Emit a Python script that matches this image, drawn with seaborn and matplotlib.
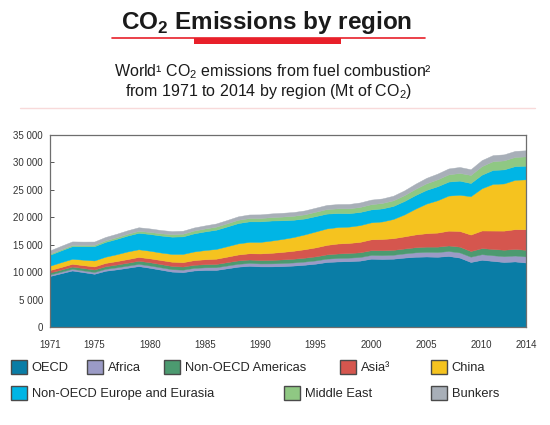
import matplotlib
matplotlib.use("Agg")
import matplotlib.pyplot as plt
from matplotlib.patches import Rectangle, Patch
from matplotlib.lines import Line2D
from matplotlib.ticker import FuncFormatter, MultipleLocator
import seaborn as sns

# data (Mt of CO2), 1971-2014
years = list(range(1971, 2015))

oecd = [9300, 9800, 10300, 10000, 9700, 10250, 10500, 10800, 11100, 10800,
        10450, 10100, 10000, 10300, 10400, 10400, 10700, 11000, 11150, 11050,
        11050, 11100, 11200, 11350, 11550, 11850, 11950, 12000, 12100, 12450,
        12400, 12450, 12650, 12800, 12850, 12800, 12950, 12650, 11850, 12250,
        12050, 11850, 11950, 11750]
africa = [270, 280, 300, 310, 330, 350, 370, 380, 400, 410,
          430, 440, 450, 470, 480, 500, 510, 520, 530, 540,
          550, 560, 570, 580, 590, 610, 630, 640, 660, 680,
          700, 720, 760, 810, 850, 870, 900, 950, 970, 1020,
          1030, 1060, 1080, 1110]
americas = [370, 390, 420, 440, 450, 480, 510, 540, 580, 600,
            590, 590, 570, 570, 570, 590, 610, 620, 620, 610,
            630, 660, 680, 710, 740, 780, 820, 850, 860, 870,
            890, 890, 900, 930, 950, 980, 1010, 1050, 1030, 1120,
            1150, 1180, 1200, 1210]
asia = [450, 470, 500, 520, 560, 600, 630, 660, 690, 710,
        740, 770, 800, 850, 900, 960, 1010, 1080, 1140, 1210,
        1290, 1370, 1450, 1540, 1640, 1730, 1820, 1830, 1900, 1980,
        2050, 2130, 2210, 2330, 2450, 2560, 2700, 2850, 3000, 3200,
        3350, 3480, 3600, 3750]
china = [790, 880, 910, 1000, 1090, 1130, 1250, 1390, 1400, 1390,
         1370, 1420, 1500, 1580, 1680, 1780, 1900, 2030, 2070, 2100,
         2240, 2360, 2500, 2700, 2900, 3000, 3000, 2980, 3050, 3100,
         3200, 3500, 4000, 4700, 5400, 5900, 6400, 6600, 7000, 7700,
         8500, 8600, 9000, 9100]
europe_eurasia = [2000, 2150, 2300, 2450, 2600, 2700, 2800, 2900, 3000, 3050,
                  3100, 3150, 3200, 3300, 3400, 3500, 3600, 3700, 3750, 3750,
                  3650, 3400, 3150, 2900, 2800, 2700, 2550, 2450, 2400, 2350,
                  2380, 2380, 2450, 2480, 2500, 2550, 2550, 2580, 2400, 2480,
                  2550, 2560, 2500, 2480]
middle_east = [190, 200, 220, 230, 250, 280, 300, 320, 350, 370,
               400, 440, 480, 510, 530, 560, 580, 600, 600, 600,
               620, 680, 720, 760, 800, 830, 860, 880, 910, 950,
               990, 1020, 1060, 1130, 1200, 1260, 1310, 1400, 1470, 1550,
               1590, 1640, 1670, 1700]
bunkers = [600, 630, 650, 620, 600, 620, 630, 640, 660, 640,
           600, 570, 550, 560, 560, 580, 600, 630, 650, 670,
           680, 690, 690, 710, 730, 750, 780, 800, 820, 840,
           820, 840, 870, 930, 990, 1040, 1080, 1090, 1040, 1100,
           1110, 1100, 1100, 1110]

labels = ["OECD", "Africa", "Non-OECD Americas", "Asia\u00b3", "China",
          "Non-OECD Europe and Eurasia", "Middle East", "Bunkers"]
colors = ["#0A7DA6", "#9B9BC6", "#4C9A70", "#D5564E", "#F5C31F",
          "#00B5E5", "#8FC883", "#A8AFB8"]
x_labels = [1971, 1975, 1980, 1985, 1990, 1995, 2000, 2005, 2010, 2014]

sns.set_theme(style="white")
plt.rcParams["font.family"] = ["Liberation Sans", "DejaVu Sans"]
plt.rcParams["mathtext.fontset"] = "custom"
plt.rcParams["mathtext.rm"] = "Liberation Sans"
plt.rcParams["mathtext.bf"] = "Liberation Sans:bold"

fig = plt.figure(figsize=(5.5, 4.25), dpi=100)
fig.patch.set_facecolor("white")

# title block
fig.text(0.484, 0.948, r"CO$_\mathregular{2}$ Emissions by region", ha="center", va="center",
         fontsize=17.5, fontweight="bold", color="#1a1a1a")
fig.add_artist(Line2D([112 / 550, 425 / 550], [1 - 38 / 425] * 2, color="#E8202A", lw=1.2))
fig.add_artist(Rectangle((194 / 550, 1 - 43.5 / 425), 147 / 550, 5.5 / 425,
                         color="#E8202A", lw=0))
fig.text(0.496, 0.832, "World\u00b9 CO$_\\mathregular{2}$ emissions from fuel combustion\u00b2",
         ha="center", va="center", fontsize=11.5, color="#1a1a1a")
fig.text(0.488, 0.785, "from 1971 to 2014 by region (Mt of CO$_\\mathregular{2}$)",
         ha="center", va="center", fontsize=11.5, color="#1a1a1a")
fig.add_artist(Line2D([20 / 550, 535 / 550], [1 - 108 / 425] * 2, color="#F8DADA", lw=1))

# stacked area chart
ax = fig.add_axes([50 / 550, 1 - 327 / 425, 476 / 550, 192 / 425])
ax.stackplot(years, oecd, africa, americas, asia, china, europe_eurasia,
             middle_east, bunkers, colors=colors, edgecolor="face", linewidth=0.3)
ax.set_xlim(1971, 2014)
ax.set_ylim(0, 35000)
ax.set_xticks(x_labels)
ax.xaxis.set_minor_locator(MultipleLocator(1))
ax.yaxis.set_major_locator(MultipleLocator(5000))
ax.yaxis.set_major_formatter(FuncFormatter(lambda v, p: f"{int(v):,}".replace(",", " ")))
for s in ax.spines.values():
    s.set_color("#6e6e6e")
    s.set_linewidth(0.9)
ax.tick_params(axis="both", which="both", direction="in", color="#555555",
               labelsize=7, labelcolor="#333333")
ax.tick_params(axis="both", which="major", length=3, width=0.7, bottom=True, left=True)
ax.tick_params(axis="x", which="minor", length=3, width=0.7, bottom=True)
ax.tick_params(axis="x", which="major", pad=9)
ax.tick_params(axis="y", which="major", pad=5)

# legend, placed entry by entry like the original
legend_pos = [(11, 367), (87, 367), (164, 367), (340, 367), (431, 367),
              (11, 393), (284, 393), (431, 393)]
for lab, col, (px, py) in zip(labels, colors, legend_pos):
    h = Patch(facecolor=col, edgecolor="#4a4a4a", linewidth=1)
    fig.legend(handles=[h], labels=[lab], loc="center left",
               bbox_to_anchor=(px / 550, 1 - py / 425), frameon=False,
               fontsize=9.3, handlelength=1.25, handleheight=1.25,
               handletextpad=0.35, borderpad=0, borderaxespad=0)

fig.savefig("out.png", dpi=100)
